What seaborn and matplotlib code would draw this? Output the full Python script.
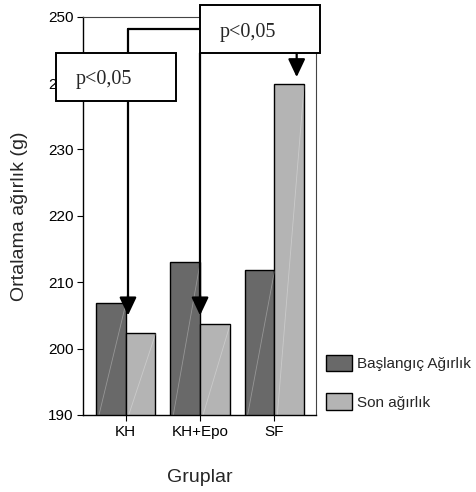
import matplotlib
matplotlib.use("Agg")
import matplotlib.pyplot as plt
import seaborn as sns
import pandas as pd
from matplotlib.patches import Rectangle

# ---- data ----
groups = ["KH", "KH+Epo", "SF"]
series_names = ["Başlangıç Ağırlık", "Son ağırlık"]
baslangic = [206.9, 213.1, 211.8]
son = [202.4, 203.7, 239.8]
yticks = [190, 200, 210, 220, 230, 240, 250]
p_label = "p<0,05"

df = pd.DataFrame({
    "Grup": groups * 2,
    "Seri": [series_names[0]] * 3 + [series_names[1]] * 3,
    "Deger": baslangic + son,
})

sns.set_style("white")
plt.rcParams["font.family"] = ["Liberation Sans", "DejaVu Sans"]

fig = plt.figure(figsize=(4.76, 4.92), dpi=100)
ax = fig.add_axes([83 / 476, 1 - 415 / 492, (316 - 83) / 476, (415 - 16.7) / 492])

sns.barplot(data=df, x="Grup", y="Deger", hue="Seri", order=groups,
            hue_order=series_names, palette=["#696969", "#b4b4b4"],
            edgecolor="black", linewidth=1.0, width=0.8, ax=ax, zorder=2)

ax.set_ylim(190, 250)
ax.set_yticks(yticks)
ax.set_xlim(-0.575, 2.56)

# faint diagonal sheen inside each bar (as in the reference rendering)
for bar in ax.patches:
    x0, w, h = bar.get_x(), bar.get_width(), bar.get_height()
    if h > 0:
        ax.plot([x0 + 0.04, x0 + w], [190, 190 + h * 0.999 - (190 - bar.get_y())],
                color="white", lw=0.6, alpha=0.3, zorder=2.5)

ax.tick_params(axis="both", direction="out", length=4, width=0.8,
               labelsize=11, pad=3, colors="black")
ax.tick_params(axis="both", which="both", left=True, bottom=True)
for s in ["left", "bottom"]:
    ax.spines[s].set_color("black")
    ax.spines[s].set_linewidth(1.0)
for s in ["top", "right"]:
    ax.spines[s].set_color("#444444")
    ax.spines[s].set_linewidth(0.8)

ax.set_xlabel("Gruplar", fontsize=14, labelpad=22)
ax.set_ylabel("Ortalama ağırlık (g)", fontsize=14, labelpad=14)

# ---- significance annotations ----
lw = 1.6
y_h = 248.16
x_kh, x_epo, x_sf = 0.03, 1.0, 2.30
ax.plot([x_kh, x_kh], [y_h, 206.5], color="black", lw=lw, zorder=5, clip_on=False)
ax.plot([x_kh, x_epo], [y_h, y_h], color="black", lw=lw, zorder=5, clip_on=False)
ax.plot([x_epo, x_epo], [244.56, 206.5], color="black", lw=lw, zorder=5, clip_on=False)

arrow = dict(arrowstyle="-|>,head_length=1.1,head_width=0.52", mutation_scale=10,
             color="black", lw=lw, shrinkA=0, shrinkB=0)
ax.annotate("", xy=(x_kh, 205.0), xytext=(x_kh, 208.0), arrowprops=arrow,
            annotation_clip=False, zorder=6)
ax.annotate("", xy=(x_epo, 205.0), xytext=(x_epo, 208.0), arrowprops=arrow,
            annotation_clip=False, zorder=6)
ax.annotate("", xy=(x_sf, 240.9), xytext=(x_sf, 244.56), arrowprops=arrow,
            annotation_clip=False, zorder=6)

# boxes
box_up = Rectangle((1.0, 244.56), 1.62, 251.75 - 244.56, facecolor="white",
                   edgecolor="black", lw=1.4, zorder=10, clip_on=False)
box_left = Rectangle((-0.938, 237.36), 1.615, 244.56 - 237.36, facecolor="white",
                     edgecolor="black", lw=1.4, zorder=10, clip_on=False)
ax.add_patch(box_up)
ax.add_patch(box_left)
ax.text(1.27, 247.6, p_label, family="Liberation Serif", fontsize=14.5,
        ha="left", va="center", zorder=11, clip_on=False)
ax.text(-0.668, 240.5, p_label, family="Liberation Serif", fontsize=14.5,
        ha="left", va="center", zorder=11, clip_on=False)

# legend
ax.legend_.remove()
handles, labels = ax.get_legend_handles_labels()
fig.legend(handles, labels, loc="upper left",
           bbox_to_anchor=(325.7 / 476, 1 - 355 / 492), bbox_transform=fig.transFigure,
           frameon=False, fontsize=11, borderpad=0, borderaxespad=0,
           handlelength=1.7, handleheight=1.25, handletextpad=0.35,
           labelspacing=1.45)

fig.savefig("out.png", dpi=100)
